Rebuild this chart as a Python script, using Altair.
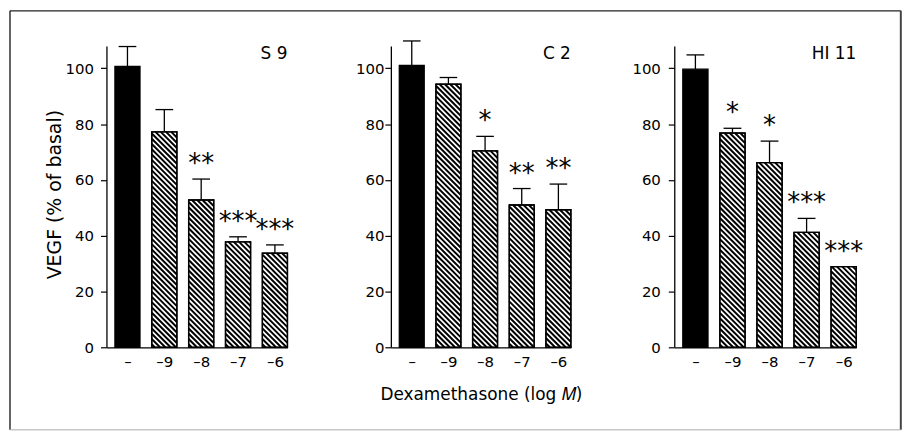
import json
import math
import altair as alt
import pandas as pd

# ---------------- data ----------------
panel_names = ["S 9", "C 2", "HI 11"]
dose_labels = ["–", "–9", "–8", "–7", "–6"]
dose_pos = [1, 2, 3, 4, 5]

s9_mean = [100.7, 77.2, 52.8, 37.8, 33.7]
s9_err = [7.1, 8.0, 7.5, 1.8, 3.0]
s9_stars = ["", "", "**", "***", "***"]

c2_mean = [101.0, 94.3, 70.4, 51.0, 49.3]
c2_err = [8.8, 2.4, 5.2, 5.9, 9.2]
c2_stars = ["", "", "*", "**", "**"]

hi11_mean = [99.7, 76.8, 66.2, 41.2, 28.9]
hi11_err = [5.1, 1.7, 7.7, 5.0, 0.0]
hi11_stars = ["", "*", "*", "***", "***"]

y_title = "VEGF (% of basal)"
x_title = "Dexamethasone (log 𝑀)"

# ---------------- layout / style ----------------
FONT = "DejaVu Sans"
WIDTHS = [182, 181, 183]
H = 303
Y_MAX = 108
X_LO, X_HI = 0.43, 5.34
HALF = 0.34
CAP = 0.24
PERIOD = 5.3
LBL_PAD = [7, 1, 8]

label_expr_x = json.dumps(dose_labels, ensure_ascii=False) + "[datum.value - 1]"


def hatch_segments(means, width):
    kx = width / (X_HI - X_LO)
    ky = H / Y_MAX
    rows = []
    for pos, m in zip(dose_pos[1:], means[1:]):
        x0 = (pos - HALF - X_LO) * kx
        x1 = (pos + HALF - X_LO) * kx
        yt = H - m * ky
        yb = H
        k_min = math.floor((yt - x1) / PERIOD) - 1
        k_max = math.ceil((yb - x0) / PERIOD) + 1
        for k in range(k_min, k_max + 1):
            c = k * PERIOD
            xa = max(x0, yt - c)
            xb = min(x1, yb - c)
            if xb - xa > 0.2:
                rows.append(dict(u=X_LO + xa / kx, v=(H - (xa + c)) / ky,
                                 u2=X_LO + xb / kx, v2=(H - (xb + c)) / ky))
    return pd.DataFrame(rows)


def panel(i, name, means, errs, stars):
    width = WIDTHS[i]
    df = pd.DataFrame({
        "pos": dose_pos,
        "mean": means,
        "err": errs,
        "stars": stars,
    })
    df["top"] = df["mean"] + df["err"]
    df["x0"] = df["pos"] - HALF
    df["x1"] = df["pos"] + HALF
    df["c0"] = df["pos"] - CAP
    df["c1"] = df["pos"] + CAP
    df["ctrl"] = df["pos"] == 1

    xt = x_title if i == 1 else ""
    yt = y_title if i == 0 else ""
    xs = alt.Scale(domain=[X_LO, X_HI], nice=False, zero=False)
    ys = alt.Scale(domain=[0, Y_MAX], nice=False)

    xaxis_kw = dict(
        values=dose_pos, labelExpr=label_expr_x, ticks=False, grid=False,
        domainColor="black", domainWidth=1.3, labelFont=FONT, labelFontSize=15,
        labelColor="black", labelPadding=7, labelFlush=False, title=xt,
    )
    if i == 1:
        xaxis_kw.update(titleFont=FONT, titleFontSize=17, titleFontWeight="normal",
                        titleColor="black", titleY=53, titleBaseline="alphabetic")
    yaxis_kw = dict(
        values=list(range(0, 101, 10)),
        labelExpr="datum.value % 20 === 0 ? datum.label : ''",
        tickSize={"condition": {"test": "datum.value % 20 === 0", "value": 6}, "value": 3.5},
        grid=False, domainColor="black", domainWidth=1.3, tickColor="black",
        tickWidth=1.2, labelFont=FONT, labelFontSize=15, labelColor="black",
        labelPadding=LBL_PAD[i], title=yt,
    )
    if i == 0:
        yaxis_kw.update(titleFont=FONT, titleFontSize=19, titleFontWeight="normal",
                        titleColor="black", titleX=-46, titleY=149, titleAngle=270,
                        titleAlign="center", titleBaseline="alphabetic")

    base = alt.Chart(df)
    bars = base.mark_rect(stroke="black", strokeWidth=1.3).encode(
        x=alt.X("x0:Q", scale=xs, axis=alt.Axis(**xaxis_kw), title=xt),
        x2="x1:Q",
        y=alt.Y("mean:Q", scale=ys, axis=alt.Axis(**yaxis_kw), title=yt),
        y2=alt.Y2(datum=0),
        color=alt.condition("datum.ctrl", alt.value("black"), alt.value("white")),
    )
    hatch = alt.Chart(hatch_segments(means, width)).mark_rule(
        color="black", strokeWidth=2.0).encode(
        x=alt.X("u:Q", scale=xs, title=xt), x2="u2:Q",
        y=alt.Y("v:Q", scale=ys, title=yt), y2="v2:Q",
    )
    outline = base.transform_filter("!datum.ctrl").mark_rect(
        fillOpacity=0, stroke="black", strokeWidth=1.4).encode(
        x=alt.X("x0:Q", scale=xs, title=xt), x2="x1:Q",
        y=alt.Y("mean:Q", scale=ys, title=yt), y2=alt.Y2(datum=0),
    )
    eb = base.transform_filter("datum.err > 0")
    err_v = eb.mark_rule(color="black", strokeWidth=1.3).encode(
        x=alt.X("pos:Q", scale=xs, title=xt),
        y=alt.Y("mean:Q", scale=ys, title=yt), y2="top:Q",
    )
    err_c = eb.mark_rule(color="black", strokeWidth=1.3).encode(
        x=alt.X("c0:Q", scale=xs, title=xt), x2="c1:Q",
        y=alt.Y("top:Q", scale=ys, title=yt),
    )
    star_txt = base.transform_filter("datum.stars != ''").mark_text(
        font=FONT, fontSize=26, color="black", baseline="alphabetic", dy=-7).encode(
        x=alt.X("pos:Q", scale=xs, title=xt),
        y=alt.Y("top:Q", scale=ys, title=yt),
        text="stars:N",
    )
    lbl = base.transform_filter("datum.pos == 1").mark_text(
        font=FONT, fontSize=17, color="black", align="right",
        baseline="alphabetic").encode(
        x=alt.value(width), y=alt.value(13), text=alt.value(name),
    )
    layers = [bars, hatch, outline, err_v, err_c, star_txt, lbl]
    if i == 0:
        fl, fr, ft, fb = -97, 798.8, -35.3, 386
        layers += [
            base.transform_filter("datum.pos == 1").mark_rule(color="#222", strokeWidth=1.4).encode(
                x=alt.value(fl), x2=alt.value(fr), y=alt.value(ft)),
            base.transform_filter("datum.pos == 1").mark_rule(color="#222", strokeWidth=1.4).encode(
                x=alt.value(fl), y=alt.value(ft), y2=alt.value(fb)),
            base.transform_filter("datum.pos == 1").mark_rule(color="#444", strokeWidth=2).encode(
                x=alt.value(fr), y=alt.value(ft), y2=alt.value(fb)),
            base.transform_filter("datum.pos == 1").mark_rule(color="#aaa", strokeWidth=1).encode(
                x=alt.value(fl), x2=alt.value(fr), y=alt.value(fb)),
        ]
    return alt.layer(*layers).properties(width=width, height=H)


panels = [
    panel(0, panel_names[0], s9_mean, s9_err, s9_stars),
    panel(1, panel_names[1], c2_mean, c2_err, c2_stars),
    panel(2, panel_names[2], hi11_mean, hi11_err, hi11_stars),
]

chart = alt.hconcat(*panels, spacing=104, bounds="flush").properties(
    padding=0, background="white"
).configure_view(stroke="transparent")

chart.save("out.html", embed_options={"renderer": "svg", "actions": False})
